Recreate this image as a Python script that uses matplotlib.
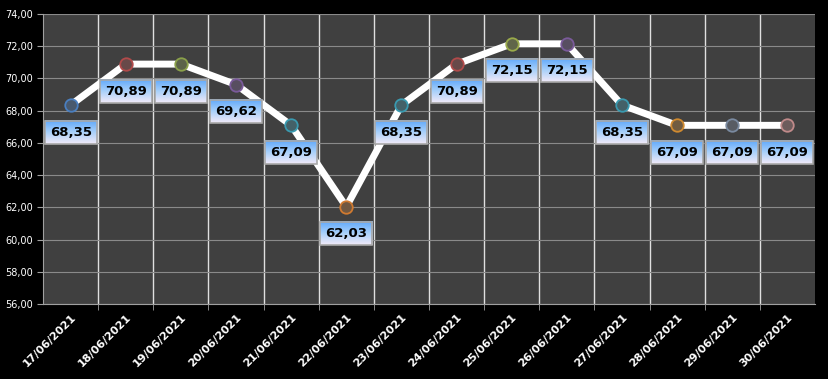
import numpy as np
import matplotlib
matplotlib.use("Agg")
import matplotlib.pyplot as plt
from matplotlib.colors import to_rgb, LinearSegmentedColormap

# ── data ───────────────────────────────────────────
dates = ["17/06/2021", "18/06/2021", "19/06/2021", "20/06/2021", "21/06/2021",
         "22/06/2021", "23/06/2021", "24/06/2021", "25/06/2021", "26/06/2021",
         "27/06/2021", "28/06/2021", "29/06/2021", "30/06/2021"]
values = [68.35, 70.89, 70.89, 69.62, 67.09, 62.03, 68.35, 70.89, 72.15, 72.15,
          68.35, 67.09, 67.09, 67.09]
marker_colours = ["#4a7fc0", "#b04a4a", "#8aa04a", "#7a5a9a", "#3a9ab0", "#d07a30",
                  "#3a9ab0", "#b04a4a", "#9aaa4a", "#7a5a9a", "#3a9ab0", "#d08a30",
                  "#7a8aa0", "#c08a8a"]
yticks = np.arange(56, 74.1, 2)

# ── figure ─────────────────────────────────────────
fig = plt.figure(figsize=(8.29, 3.79), dpi=100, facecolor="black")
ax = fig.add_axes([0.052, 0.198, 0.931, 0.765])
ax.set_facecolor("#404040")

x = np.arange(len(dates))
ax.plot(x, values, color="white", lw=5, solid_capstyle="round", zorder=3)
labels = []
for xi, v, c in zip(x, values, marker_colours):
    rgb = np.array(to_rgb(c))
    ax.plot(xi, v, "o", ms=9, mfc=tuple(rgb * 0.3 + 0.2), mec=c, mew=1.3, zorder=4)
    t = ax.annotate(f"{v:.2f}".replace(".", ","), (xi, v), xytext=(0, -27),
                    textcoords="offset pixels", ha="center", va="center",
                    fontsize=9.5, fontweight="bold", color="black", zorder=6,
                    bbox=dict(boxstyle="square,pad=0.38", fc="none", ec="#a8a8a8", lw=1.2))
    labels.append(t)

ax.set_xlim(-0.5, len(dates) - 0.5)
ax.set_ylim(56, 74)
ax.set_yticks(yticks)
ax.set_yticklabels([f"{t:.2f}".replace(".", ",") for t in yticks], color="white", fontsize=7)
ax.set_xticks(x)
ax.set_xticklabels(dates, rotation=45, ha="right", rotation_mode="anchor",
                   color="white", fontsize=8, fontweight="bold")
ax.set_xticks(x[:-1] + 0.5, minor=True)
ax.tick_params(axis="x", which="major", length=0, pad=6)
ax.tick_params(axis="x", which="minor", length=4, color="#a0a0a0")
ax.tick_params(axis="y", length=4, color="#a0a0a0")

ax.grid(axis="y", color="#8a8a8a", lw=0.8)
ax.grid(axis="x", which="minor", color="#e0e0e0", lw=1)
ax.set_axisbelow(True)
for s in ["top", "right"]:
    ax.spines[s].set_visible(False)
for s in ["left", "bottom"]:
    ax.spines[s].set_color("#a0a0a0")

# gradient fill behind each label box
fig.canvas.draw()
grad_cmap = LinearSegmentedColormap.from_list("lbl", ["#f2eaf8", "#a8d0fa", "#5fa8fb"])
inv = ax.transData.inverted()
for t in labels:
    ext = t.get_bbox_patch().get_window_extent()
    (x0, y0), (x1, y1) = inv.transform([(ext.x0, ext.y0), (ext.x1, ext.y1)])
    ax.imshow(np.linspace(0, 1, 64).reshape(-1, 1), cmap=grad_cmap, origin="lower",
              extent=(x0, x1, y0, y1), aspect="auto", zorder=5, interpolation="bilinear")
ax.set_xlim(-0.5, len(dates) - 0.5)
ax.set_ylim(56, 74)

fig.savefig("out.png", facecolor="black")
